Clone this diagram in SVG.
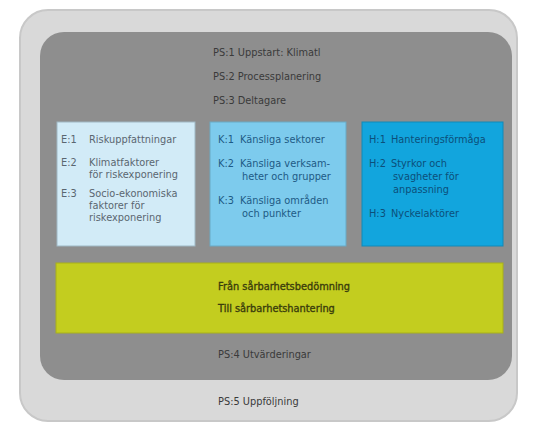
<svg xmlns="http://www.w3.org/2000/svg" width="533" height="424" viewBox="0 0 533 424">
<style>
text{font-family:"DejaVu Sans","Liberation Sans",sans-serif;font-size:9.8px}
.ps{fill:#3a3a3a}
.e{fill:#5a6670}
.k{fill:#1d5a85}
.h{fill:#0c4f7a}
.y{fill:#3b3d0c;stroke:#3b3d0c;stroke-width:0.35px}
</style>
<rect width="533" height="424" fill="#ffffff"/>
<g id="outer">
<rect x="20" y="10" width="497" height="411" rx="28" fill="#d9d9d9" stroke="#c8c8c8" stroke-width="2"/>
<text class="ps" x="218" y="405">PS:5 Uppföljning</text>
</g>
<g id="inner">
<rect x="40" y="32" width="472" height="348" rx="24" fill="#8e8e8e"/>
<text class="ps" x="213" y="56">PS:1 Uppstart: Klimatl</text>
<text class="ps" x="213" y="80">PS:2 Processplanering</text>
<text class="ps" x="213" y="104">PS:3 Deltagare</text>
<text class="ps" x="218" y="358">PS:4 Utvärderingar</text>
</g>
<g id="E">
<rect x="57" y="122" width="138" height="124" fill="#d2ebf7" stroke="#9fb8c4" stroke-width="1"/>
<text class="e" x="61" y="143">E:1</text><text class="e" x="89" y="143">Riskuppfattningar</text>
<text class="e" x="61" y="166">E:2</text><text class="e" x="89" y="166">Klimatfaktorer</text>
<text class="e" x="89" y="178">för riskexponering</text>
<text class="e" x="61" y="197">E:3</text><text class="e" x="89" y="197">Socio-ekonomiska</text>
<text class="e" x="89" y="209">faktorer för</text>
<text class="e" x="89" y="221">riskexponering</text>
</g>
<g id="K">
<rect x="210" y="122" width="136" height="124" fill="#7dcbed" stroke="#6aa9c4" stroke-width="1"/>
<text class="k" x="218" y="143">K:1</text><text class="k" x="240" y="143">Känsliga sektorer</text>
<text class="k" x="218" y="167">K:2</text><text class="k" x="240" y="167">Känsliga verksam-</text>
<text class="k" x="242" y="180">heter och grupper</text>
<text class="k" x="218" y="204">K:3</text><text class="k" x="240" y="204">Känsliga områden</text>
<text class="k" x="242" y="217">och punkter</text>
</g>
<g id="H">
<rect x="362" y="122" width="141" height="124" fill="#12a5dd" stroke="#1089b8" stroke-width="1"/>
<text class="h" x="369" y="143">H:1</text><text class="h" x="391" y="143">Hanteringsförmåga</text>
<text class="h" x="369" y="167">H:2</text><text class="h" x="391" y="167">Styrkor och</text>
<text class="h" x="393" y="180">svagheter för</text>
<text class="h" x="393" y="193">anpassning</text>
<text class="h" x="369" y="217">H:3</text><text class="h" x="391" y="217">Nyckelaktörer</text>
</g>
<g id="bar">
<rect x="56" y="263" width="447" height="70" fill="#c3cd1f" stroke="#a8b01a" stroke-width="1"/>
<text class="y" x="218" y="290">Från sårbarhetsbedömning</text>
<text class="y" x="218" y="312">Till sårbarhetshantering</text>
</g>
<g id="connectors"/>
</svg>
